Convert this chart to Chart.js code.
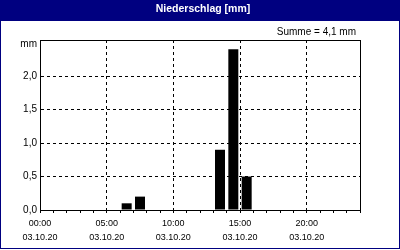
<!DOCTYPE html>
<html>
<head>
<meta charset="utf-8">
<script src="https://cdn.jsdelivr.net/npm/chart.js@4/dist/chart.umd.min.js"></script>
<style>
  html, body { margin: 0; padding: 0; background: #fff; }
  #wrap { width: 400px; height: 250px; }
</style>
</head>
<body>
<div id="wrap"><canvas id="rain" width="400" height="250"></canvas></div>
<script>
// ── data ──
const hours = [0, 1, 2, 3, 4, 5, 6, 7, 8, 9, 10, 11, 12, 13, 14, 15, 16, 17, 18, 19, 20, 21, 22, 23];
const rain  = [0, 0, 0, 0, 0, 0, 0.1, 0.2, 0, 0, 0, 0, 0, 0.9, 2.4, 0.5, 0, 0, 0, 0, 0, 0, 0, 0];
const xTicks = [0, 1, 2, 3, 4, 5, 6, 7, 8, 9, 10, 11, 12, 13, 14, 15, 16, 17, 18, 19, 20, 21, 22, 23, 24];
const timeLabels = ['00:00', '05:00', '10:00', '15:00', '20:00'];
const dateLabel = '03.10.20';
const yTicks = [0, 0.5, 1, 1.5, 2];

const NAVY = '#000080';
const FONT = '"Liberation Sans", Arial, sans-serif';
const fmt = v => v.toFixed(1).replace('.', ',');
const total = rain.reduce((a, b) => a + b, 0);

// header, frame and the little texts
const frame = {
  id: 'frame',
  beforeDraw(chart) {
    const { ctx, width } = chart;
    ctx.save();
    ctx.fillStyle = '#fff';
    ctx.fillRect(0, 0, width, 250);
    ctx.fillStyle = NAVY;
    ctx.fillRect(0, 0, width, 21);
    ctx.fillStyle = '#fff';
    ctx.font = 'bold 10.5px ' + FONT;
    ctx.textAlign = 'center';
    ctx.textBaseline = 'alphabetic';
    ctx.fillText('Niederschlag [mm]', 203, 12);
    ctx.restore();
  },
  afterDraw(chart) {
    const { ctx, chartArea: a } = chart;
    ctx.save();
    ctx.setLineDash([]);
    ctx.strokeStyle = '#000';
    ctx.lineWidth = 1;
    ctx.strokeRect(a.left + 0.5, a.top + 0.5, a.right - a.left, a.bottom - a.top);
    ctx.strokeStyle = NAVY;
    ctx.strokeRect(0.5, 0.5, 399, 248);
    ctx.fillStyle = '#000';
    ctx.font = '10px ' + FONT;
    ctx.textAlign = 'right';
    ctx.textBaseline = 'alphabetic';
    ctx.fillText('mm', 37, 47);
    ctx.fillText('Summe = ' + fmt(total) + ' mm', 356, 35);
    ctx.restore();
  }
};

new Chart(document.getElementById('rain'), {
  type: 'bar',
  data: {
    datasets: [{
      // empty hours are left out so no hairline stubs show on the axis
      data: hours.map((h, i) => ({ x: h + 0.5, y: rain[i] })).filter(p => p.y > 0),
      backgroundColor: '#000',
      borderWidth: 0,
      inflateAmount: 0,
      barThickness: 10
    }]
  },
  plugins: [frame],
  options: {
    responsive: false,
    animation: false,
    events: [],
    layout: { padding: { top: 40, right: 40, left: 0, bottom: 0 } },
    plugins: { legend: { display: false }, tooltip: { enabled: false } },
    scales: {
      x: {
        type: 'linear',
        min: 0,
        max: 24,
        offset: false,
        afterFit: s => { s.height = 40; },
        afterBuildTicks: s => { s.ticks = xTicks.map(v => ({ value: v })); },
        grid: {
          offset: false,
          color: c => (c.tick && c.tick.value % 5 === 0 && c.tick.value > 0 && c.tick.value < 24) ? '#000' : 'rgba(0,0,0,0)',
          tickColor: '#000',
          tickLength: 3,
          tickBorderDash: []
        },
        border: { color: '#000', dash: [3, 3] },
        ticks: {
          autoSkip: false,
          maxRotation: 0,
          padding: 4,
          color: '#000',
          font: { family: FONT, size: 9, lineHeight: 14 / 9 },
          callback: v => (v % 5 === 0 && v < 24) ? [timeLabels[v / 5], dateLabel] : ''
        }
      },
      y: {
        min: 0,
        max: 2.54,
        afterFit: s => { s.width = 40; },
        afterBuildTicks: s => { s.ticks = yTicks.map(v => ({ value: v })); },
        grid: { color: c => (c.tick && c.tick.value > 0) ? '#000' : 'rgba(0,0,0,0)', drawTicks: false },
        border: { color: '#000', dash: [3, 3] },
        ticks: {
          padding: 3,
          color: '#000',
          font: { family: FONT, size: 10 },
          callback: v => fmt(v)
        }
      }
    }
  }
});
</script>
</body>
</html>
